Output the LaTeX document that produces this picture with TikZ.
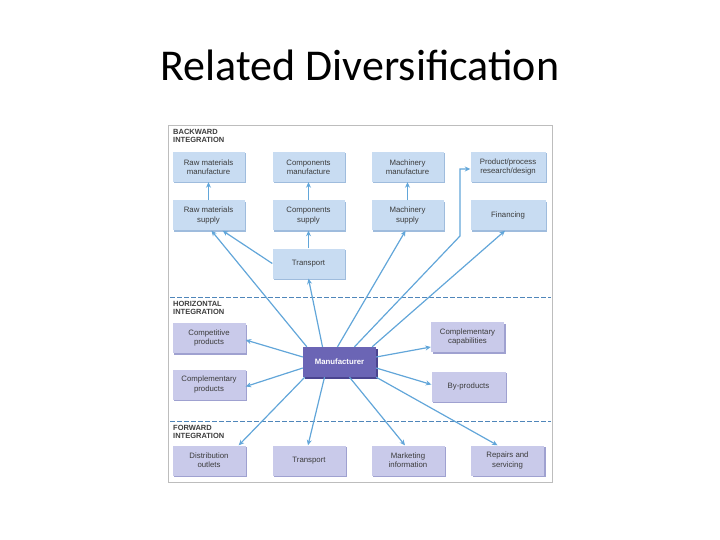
\documentclass[tikz,border=0pt]{standalone}
\usepackage{fontspec}
\usetikzlibrary{arrows.meta,calc,shadows}
\newfontfamily\titlefont{Carlito}
\newfontfamily\boxfont{Liberation Sans}
\definecolor{bfill}{HTML}{C8DCF2}
\definecolor{bedge}{HTML}{9FBCDD}
\definecolor{pfill}{HTML}{C9CAEA}
\definecolor{pedge}{HTML}{9FA1D0}
\definecolor{mfill}{HTML}{6B65B5}
\definecolor{medge}{HTML}{4B4590}
\definecolor{arrc}{HTML}{62A6D9}
\definecolor{dashc}{HTML}{4F86BA}
\definecolor{txt}{HTML}{3C3C3C}
\definecolor{framec}{HTML}{BDBDBD}
\begin{document}
\begin{tikzpicture}[x=1pt,y=-1pt,
  boxbase/.style={inner sep=0pt, align=center, minimum width=72pt, minimum height=30pt,
    font=\boxfont\fontsize{7.8}{9.2}\selectfont, text=txt},
  bbox/.style={boxbase, fill=bfill, drop shadow={shadow xshift=1.5pt, shadow yshift=-1.5pt, fill=bedge, opacity=1}},
  pbox/.style={boxbase, fill=pfill, drop shadow={shadow xshift=1.5pt, shadow yshift=-1.5pt, fill=pedge, opacity=1}},
  mbox/.style={boxbase, fill=mfill, text=white, font=\boxfont\bfseries\fontsize{7.8}{9}\selectfont,
    drop shadow={shadow xshift=1.5pt, shadow yshift=-1.5pt, fill=medge, opacity=1}},
  hdr/.style={anchor=north west, inner sep=0pt, align=left, text=txt,
    font=\boxfont\bfseries\fontsize{7.5}{8.5}\selectfont},
  arr/.style={draw=arrc, line width=1.2pt, -{Stealth[length=5.5pt,width=5pt]}},
  sep/.style={draw=dashc, line width=1pt, dash pattern=on 4.5pt off 2.5pt}
]
\useasboundingbox (0,0) rectangle (720,540);
% title
\node[font=\titlefont\fontsize{44}{50}\selectfont, text=black, inner sep=0pt, anchor=base] (title) at (360,81) {Related Diversification};
% frame
\draw[framec, line width=0.8pt] (168,125) rectangle (552,482);
% headers
\node[hdr] (hb) at (173,129) {BACKWARD\\INTEGRATION};
\node[hdr] (hh) at (173,301) {HORIZONTAL\\INTEGRATION};
\node[hdr] (hf) at (173,425) {FORWARD\\INTEGRATION};
% separators
\coordinate (s1a) at (170,297); \coordinate (s1b) at (551,297);
\coordinate (s2a) at (170,421); \coordinate (s2b) at (551,421);
\draw[sep] (s1a) -- (s1b);
\draw[sep] (s2a) -- (s2b);
% backward boxes
\node[bbox] (rmm) at (208.5,167) {Raw materials\\manufacture};
\node[bbox] (cm)  at (308.5,167) {Components\\manufacture};
\node[bbox] (mm)  at (407.5,167) {Machinery\\manufacture};
\node[bbox, minimum width=75pt] (ppr) at (508,167) {Product/process\\research/design};
\node[bbox] (rms) at (208.5,215.5) {Raw materials\\supply};
\node[bbox] (cs)  at (308.5,215.5) {Components\\supply};
\node[bbox] (ms)  at (407.5,215.5) {Machinery\\supply};
\node[bbox, minimum width=75pt] (fin) at (508,215.5) {Financing};
\node[bbox] (tb)  at (308.5,263.5) {Transport};
% horizontal
\node[pbox, minimum width=73pt] (cp)  at (209,338) {Competitive\\products};
\node[pbox, minimum width=73pt] (cc)  at (467.5,337) {Complementary\\capabilities};
\node[mbox, minimum width=73pt] (man) at (339.5,362) {Manufacturer};
\node[pbox, minimum width=73pt] (cpr) at (209,384.5) {Complementary\\products};
\node[pbox, minimum width=74pt] (bp)  at (468.5,386.5) {By-products};
% forward
\node[pbox, minimum width=73pt] (dist) at (209,460.5) {Distribution\\outlets};
\node[pbox, minimum width=73pt] (tf)   at (309,460.5) {Transport};
\node[pbox, minimum width=73pt] (mi)   at (408,460.5) {Marketing\\information};
\node[pbox, minimum width=73pt] (rs)   at (507.5,460.5) {Repairs and\\servicing};
% backward arrows
\draw[arr] (rms.north) -- (rmm.south);
\draw[arr] (cs.north) -- (cm.south);
\draw[arr] (ms.north) -- (mm.south);
\draw[arr] (tb.north) -- (cs.south);
\draw[arr] (tb.west) -- ($(rms.south east)+(-22,0)$);
\draw[arr] ($(man.north west)+(4,0)$) -- ($(rms.south)+(3,0)$);
\draw[arr] ($(man.north)+(-17,0)$) -- (tb.south);
\draw[arr] ($(man.north)+(-2,0)$) -- ($(ms.south)+(-2,0)$);
\coordinate (e1) at (460,236);
\coordinate (e2) at (460,169);
\draw[arr] ($(man.north)+(15,0)$) -- (e1) -- (e2) -- (ppr.west|-e2);
\draw[arr] ($(man.north east)+(-4,0)$) -- ($(fin.south)+(-3,0)$);
% horizontal arrows
\draw[arr] ($(man.west)+(0,-5)$) -- ($(cp.east)+(0,2)$);
\draw[arr] ($(man.east)+(0,-5)$) -- ($(cc.west)+(0,10)$);
\draw[arr] ($(man.west)+(0,6)$) -- ($(cpr.east)+(0,2)$);
\draw[arr] ($(man.east)+(0,6)$) -- ($(bp.west)+(0,-2)$);
% forward arrows
\draw[arr] ($(man.south west)+(2,0)$) -- ($(dist.north east)+(-7,0)$);
\draw[arr] ($(man.south)+(-15,0)$) -- ($(tf.north)+(-1,0)$);
\draw[arr] ($(man.south)+(10,0)$) -- ($(mi.north)+(-3,0)$);
\draw[arr] (man.south east) -- ($(rs.north)+(-10,0)$);
\end{tikzpicture}
\end{document}
